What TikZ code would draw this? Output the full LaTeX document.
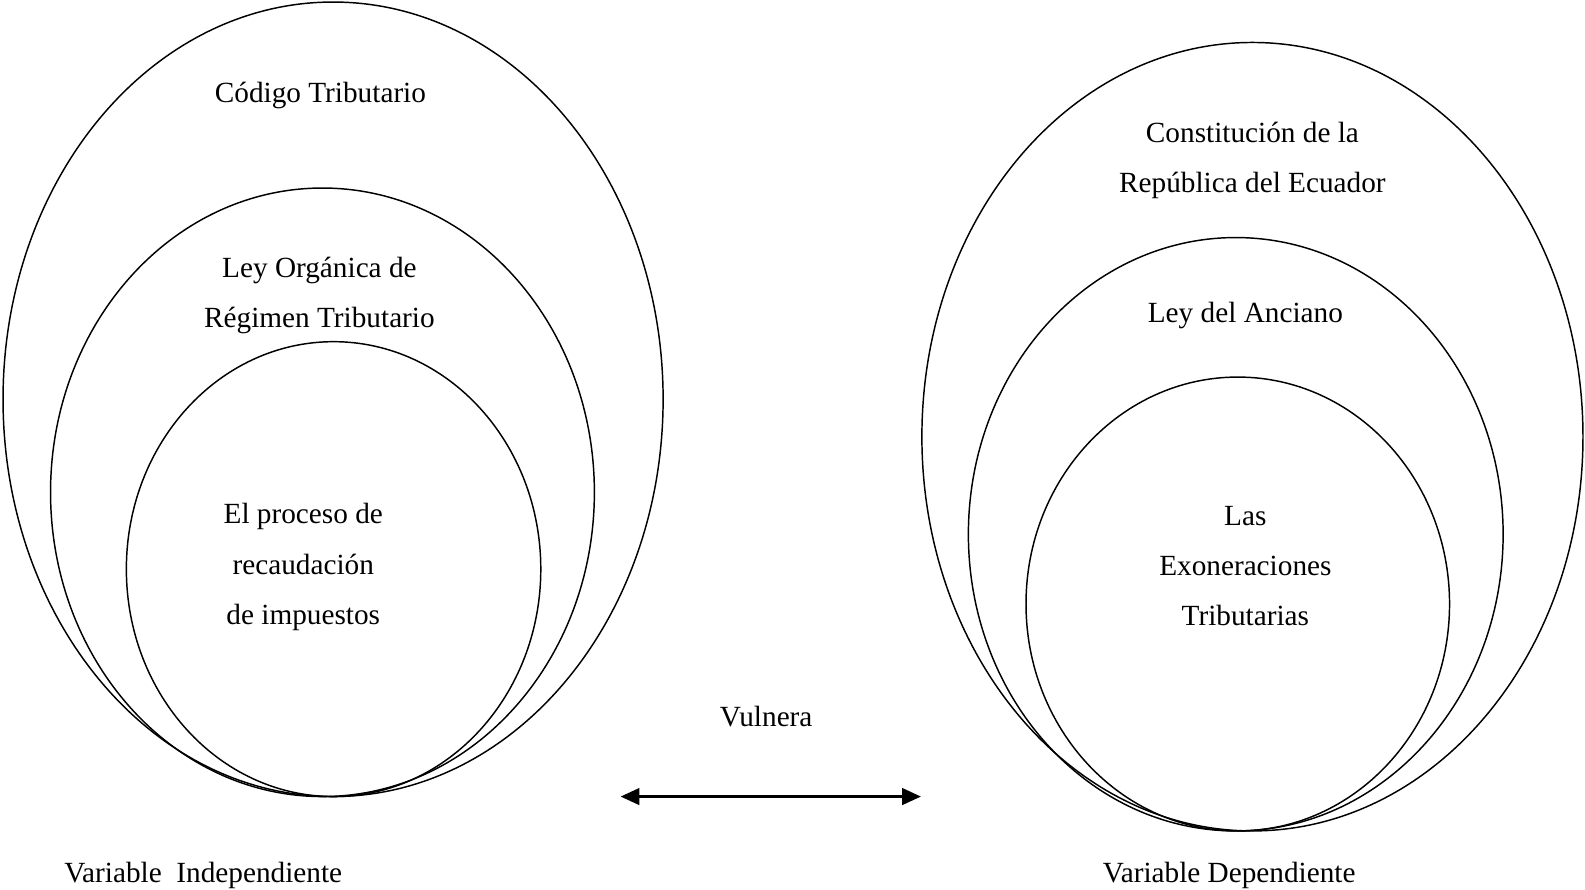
\documentclass[tikz,border=0pt]{standalone}
\usepackage{fontspec}
\setmainfont{Liberation Serif}
\usetikzlibrary{arrows.meta}
\tikzset{
  lbl/.style={draw=none, align=center, font=\fontsize{14}{24}\selectfont},
  ring/.style={line width=0.7pt}
}
\begin{document}
\begin{tikzpicture}[x=0.017cm, y=0.017cm]
    \useasboundingbox (0,0) rectangle (1568,-880);
    % independent side
    \draw [ring] (329.5,-395) ellipse [x radius=326.5, y radius=393] node (l1) {};
    \draw [ring] (319,-487) ellipse [x radius=269, y radius=301] node (l2) {};
    \draw [ring] (330,-563) ellipse [x radius=205, y radius=225] node (l3) {};
    \node [lbl, name=cod] at (317,-94) {Código Tributario};
    \node [lbl, name=loa] at (316,-292) {Ley Orgánica de\\Régimen Tributario};
    \node [lbl, name=proc] at (300,-561) {El proceso de\\recaudación\\de impuestos};

    % dependent side
    \draw [ring] (1239,-432) ellipse [x radius=327, y radius=390] node (r1) {};
    \draw [ring] (1222.5,-528.5) ellipse [x radius=264.5, y radius=293.5] node (r2) {};
    \draw [ring] (1224.5,-597.5) ellipse [x radius=209.5, y radius=224.5] node (r3) {};
    \node [lbl, name=cons] at (1239,-159) {Constitución de la\\República del Ecuador};
    \node [lbl, name=anc] at (1232,-312) {Ley del Anciano};
    \node [lbl, name=exo] at (1232,-560) {Las\\Exoneraciones\\Tributarias};

    % relation
    \node [lbl, name=vul] at (758,-709) {Vulnera};
    \coordinate (a1) at (614,-788);
    \coordinate (a2) at (911,-788);
    \draw [{Triangle[length=9pt,width=8pt]}-{Triangle[length=9pt,width=8pt]}, line width=1.1pt] (a1) -- (a2);

    \node [lbl, name=vi] at (201,-866) {Variable\ \ Independiente};
    \node [lbl, name=vd] at (1216,-866) {Variable Dependiente};
  \end{tikzpicture}
\end{document}
